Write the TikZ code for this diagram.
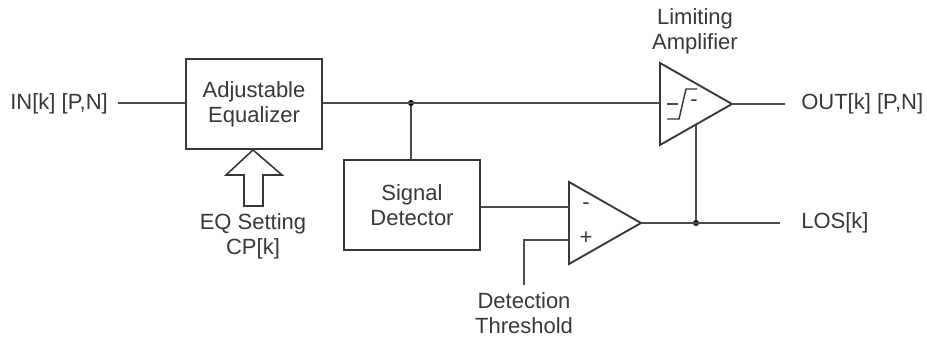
\documentclass[tikz,border=0pt]{standalone}
\usepackage{fontspec}
\setmainfont{Liberation Sans}
\usetikzlibrary{shapes.geometric}
\definecolor{wire}{gray}{0.3}
\definecolor{ink}{gray}{0.22}
\begin{document}
\begin{tikzpicture}[x=0.75pt,y=-0.75pt]
    \tikzstyle{block}=[draw=ink,text=ink,line width=1.4pt,inner sep=0pt,minimum width=102pt,minimum height=67.5pt,align=center]
    \tikzstyle{amp}=[draw=ink,line width=1.4pt,shape=isosceles triangle,isosceles triangle stretches,inner sep=0pt,outer sep=0pt,minimum width=61.5pt,minimum height=54pt,anchor=lower side]
    \tikzstyle{junction}=[shape=circle,fill=black,inner sep=0pt,minimum size=4.5pt]
    \tikzstyle{label}=[text=ink,inner sep=0pt,align=center]
    \tikzstyle{wireline}=[draw=wire,line width=1.7pt]
    \tikzstyle{sign}=[text=ink,inner sep=0pt]
    \tikzset{every node/.append style={font=\fontsize{16.5}{19}\selectfont}}
    \useasboundingbox (0,0) rectangle (927,339);

    \node[block] at (254,104) (eq) {Adjustable\\Equalizer};
    \node[block] at (412,205) (sd) {Signal\\Detector};
    \node[amp] at (660,104) (lim) {};
    \node[amp] at (569,223) (cmp) {};

    \node[label,anchor=east] at (108,104) (in) {IN[k] [P,N]};
    \node[label,anchor=west] at (801,104) (out) {OUT[k] [P,N]};
    \node[label,anchor=west] at (801,223) (los) {LOS[k]};
    \node[label] at (695,31) (limtext) {Limiting\\Amplifier};
    \node[label] at (253,236) (eqset) {EQ Setting\\CP[k]};
    \node[label] at (524,313) (thr) {Detection\\Threshold};

    \node[junction] at (411,103) (j1) {};
    \node[junction] at (696,223) (j2) {};
    \node[sign] at (586,206) (minus) {-};
    \node[sign] at (586,238) (plus) {+};
    \node[sign] at (694,103) (limminus) {-};

    \coordinate (inend) at (118,103);
    \coordinate (outend) at (785,104);
    \coordinate (losend) at (780,223);
    \coordinate (cmpm) at (569,207);
    \coordinate (cmpp) at (569,240);
    \coordinate (thrend) at (524,285);
    \coordinate (limin) at (660,103);
    \coordinate (limbot) at (696,125);

    \draw[wireline] (inend) -- (eq.west |- inend);
    \draw[wireline] (eq.east |- limin) -- (limin);
    \draw[wireline] (j1) -- (sd.north -| j1);
    \draw[wireline] (sd.east |- cmpm) -- (cmpm);
    \draw[wireline] (cmpp) -- (thrend |- cmpp) -- (thrend);
    \draw[wireline] (lim.apex) -- (outend);
    \draw[wireline] (cmp.apex) -- (losend);
    \draw[wireline] (j2) -- (limbot);

    % step inside the limiter
    \draw[wire,line width=1pt] (667,104) -- (678,104);
    \draw[ink,line width=1.1pt] (667,119) -- (679,119) -- (686,89) -- (697,89);

    % setting arrow
    \draw[draw=ink,line width=1.2pt] (eq.south -| eqset) -- (226,175) -- (244,175) -- (244,206) -- (263,206) -- (263,175) -- (282,175) -- cycle;
\end{tikzpicture}
\end{document}
